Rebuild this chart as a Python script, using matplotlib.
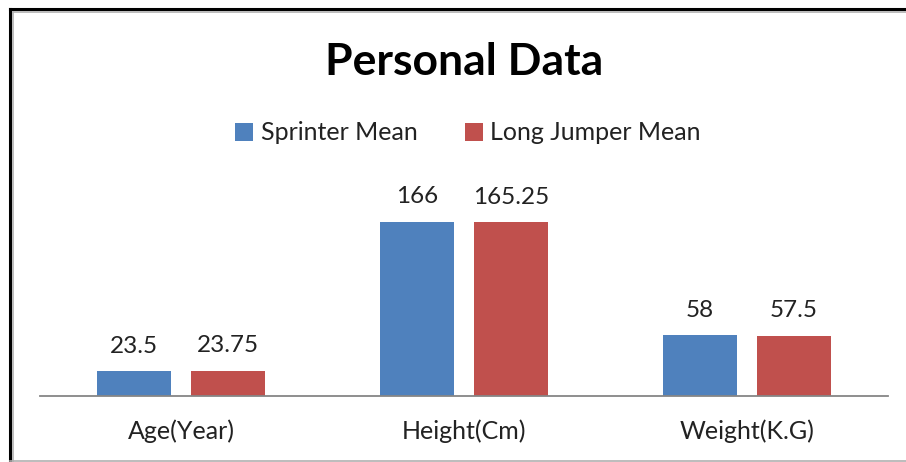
"""Recreate the Personal Data grouped bar chart."""
import matplotlib
matplotlib.use("Agg")
import matplotlib.pyplot as plt
import numpy as np
from matplotlib.lines import Line2D

categories = ["Age(Year)", "Height(Cm)", "Weight(K.G)"]
sprinter_mean = [23.5, 166, 58]
long_jumper_mean = [23.75, 165.25, 57.5]
value_labels_sprinter = ["23.5", "166", "58"]
value_labels_jumper = ["23.75", "165.25", "57.5"]

BLUE = "#4F81BD"
RED = "#C0504D"

plt.rcParams["font.family"] = ["Lato", "DejaVu Sans"]

W, H = 906, 462
fig = plt.figure(figsize=(W / 100, H / 100), dpi=100)
fig.patch.set_facecolor("white")

# plot area: x 40..888, baseline y 396, top y 186 (ylim 0..200)
ax = fig.add_axes([40 / W, 1 - 396 / H, 848 / W, 210 / H])
x = np.arange(len(categories))
width = 0.262
offset = 0.166

b1 = ax.bar(x - offset, sprinter_mean, width, color=BLUE, label="Sprinter Mean")
b2 = ax.bar(x + offset, long_jumper_mean, width, color=RED, label="Long Jumper Mean")

for bars, labels in ((b1, value_labels_sprinter), (b2, value_labels_jumper)):
    for rect, lab in zip(bars, labels):
        ax.annotate(lab, (rect.get_x() + rect.get_width() / 2, rect.get_height()),
                    xytext=(0, 10.5), textcoords="offset points",
                    ha="center", va="bottom", fontsize=17.5, color="#222222")

ax.set_xlim(-0.5, 2.5)
ax.set_ylim(0, 200)
ax.set_yticks([])
ax.set_xticks(x)
ax.set_xticklabels(categories, fontsize=18, color="#222222")
ax.tick_params(axis="x", length=0, pad=17)
for side in ("top", "right", "left"):
    ax.spines[side].set_visible(False)
ax.spines["bottom"].set_color("#868686")
ax.spines["bottom"].set_linewidth(1.3)
ax.patch.set_alpha(0)

fig.text(464 / W, 1 - 62 / H, "Personal Data", ha="center", va="center",
         fontsize=32, fontweight="bold", color="black")

leg = fig.legend(handles=[b1, b2], loc="center", bbox_to_anchor=(468 / W, 1 - 133 / H),
                 ncol=2, frameon=False, fontsize=18, handlelength=0.72,
                 handleheight=0.72, handletextpad=0.3, columnspacing=1.9)
for t in leg.get_texts():
    t.set_color("#222222")

# outer frame: black left/top with grey inner line, grey bottom line
lines = [
    ((10, 10), (9, H), "black", 2.2),
    ((10, W), (9, 9), "black", 2.2),
    ((12.5, 12.5), (11.5, H), "#b0b0b0", 1.2),
    ((12.5, W), (11.5, 11.5), "#b0b0b0", 1.2),
    ((10, W), (460.5, 460.5), "#b0b0b0", 1.2),
]
for xs, ys, c, lw in lines:
    fig.add_artist(Line2D([v / W for v in xs], [1 - v / H for v in ys],
                          color=c, linewidth=lw, transform=fig.transFigure))

fig.savefig("out.png", dpi=100)
